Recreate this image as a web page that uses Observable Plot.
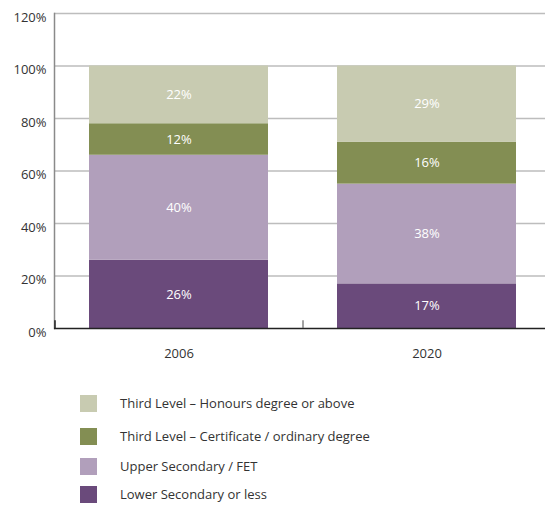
<!DOCTYPE html>
<html>
<head>
<meta charset="utf-8">
<script src="https://cdn.jsdelivr.net/npm/d3@7"></script>
<script src="https://cdn.jsdelivr.net/npm/@observablehq/plot@0.6"></script>
<style>
  body { margin: 0; background: #fff; font-family: "Open Sans", "Noto Sans", sans-serif; }
  #chart svg { display: block; }
  .legend { position: relative; height: 137px; }
  .row { position: absolute; left: 80px; display: flex; align-items: center; font-size: 13px; color: #333; }
  .sw { width: 17px; height: 17px; margin-right: 23px; }
</style>
</head>
<body>
<div id="chart"></div>
<div class="legend" id="legend"></div>
<script>
const years = ["2006", "2020"];
const levels = [
  "Lower Secondary or less",
  "Upper Secondary / FET",
  "Third Level – Certificate / ordinary degree",
  "Third Level – Honours degree or above"
];
const colors = ["#6a4a7b", "#b19fbb", "#838e53", "#c8cbb1"];
const values2006 = [26, 40, 12, 22];
const values2020 = [17, 38, 16, 29];
const yTicks = [0, 20, 40, 60, 80, 100, 120];
const legendOrder = [3, 2, 1, 0];
const legendTops = [14, 47, 77, 105];

const data = [];
years.forEach((yr, i) => {
  const vals = i === 0 ? values2006 : values2020;
  vals.forEach((v, j) => data.push({year: yr, level: levels[j], value: v}));
});

const W = 545, H = 380;
const xRange = [54, 550];
const step = (xRange[1] - xRange[0]) / years.length;

const chart = Plot.plot({
  width: W,
  height: H,
  marginTop: 13,
  marginBottom: 52,
  marginLeft: 54,
  marginRight: 0,
  style: {fontFamily: "'Open Sans', 'Noto Sans', sans-serif", fontSize: "13px", color: "#333", overflow: "visible"},
  x: {domain: years, range: xRange, paddingInner: 0.28, paddingOuter: 0.14, label: null},
  y: {domain: [0, 120], label: null},
  color: {domain: levels, range: colors},
  marks: [
    Plot.ruleY(yTicks.filter(d => d > 0), {stroke: "#bdbdbd", strokeWidth: 1.5}),
    Plot.frame({anchor: "left", stroke: "#8a8a8a", strokeWidth: 1.5}),
    Plot.barY(data, Plot.stackY({x: "year", y: "value", fill: "level", order: levels})),
    Plot.text(data, Plot.stackY({x: "year", y: "value", z: "level", order: levels, text: d => d.value + "%", fill: "white", fontSize: 13})),
    Plot.ruleY([0], {stroke: "#222", strokeWidth: 1.5}),
    Plot.ruleX(["2020"], {y1: 0, y2: 3, dx: -step / 2, stroke: "#666", strokeWidth: 1.2}),
    Plot.ruleX(["2006"], {y1: 0, y2: 3, dx: -step / 2, stroke: "#222", strokeWidth: 1.5}),
    Plot.axisY({ticks: yTicks, tickSize: 0, tickPadding: 8, dy: 4, tickFormat: d => d + "%", fontSize: 13}),
    Plot.axisX({tickSize: 0, tickPadding: 20, fontSize: 13})
  ]
});
document.getElementById("chart").appendChild(chart);

const legend = document.getElementById("legend");
legendOrder.forEach((j, k) => {
  const row = document.createElement("div");
  row.className = "row";
  row.style.top = legendTops[k] + "px";
  const sw = document.createElement("div");
  sw.className = "sw";
  sw.style.background = colors[j];
  const t = document.createElement("span");
  t.textContent = levels[j];
  row.appendChild(sw);
  row.appendChild(t);
  legend.appendChild(row);
});
</script>
</body>
</html>
